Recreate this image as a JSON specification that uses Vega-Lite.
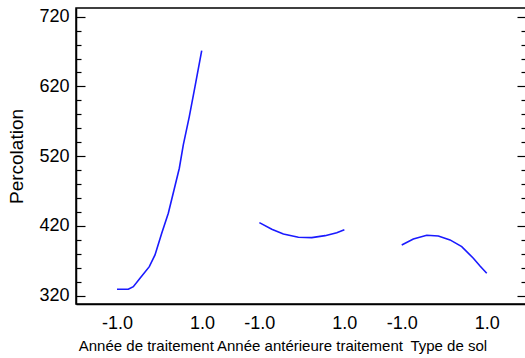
{
  "$schema": "https://vega.github.io/schema/vega-lite/v6.json",
  "width": 450,
  "height": 296,
  "autosize": {"type": "none"},
  "padding": {"left": 76, "top": 8, "right": 0, "bottom": 54},
  "background": "white",
  "config": {
    "font": "Liberation Sans",
    "view": {"stroke": "black", "strokeWidth": 1.5},
    "axis": {"labelColor": "black", "domainColor": "black", "tickColor": "black", "titleColor": "black", "grid": false, "domainWidth": 1.5, "tickWidth": 1.2}
  },
  "data": {
    "values": [
      {"facteur": "Année de traitement", "niveau": -1.0, "percolation": 329.2},
      {"facteur": "Année de traitement", "niveau": -0.734, "percolation": 329.2},
      {"facteur": "Année de traitement", "niveau": -0.616, "percolation": 332.9},
      {"facteur": "Année de traitement", "niveau": -0.459, "percolation": 344.9},
      {"facteur": "Année de traitement", "niveau": -0.24, "percolation": 361.6},
      {"facteur": "Année de traitement", "niveau": -0.106, "percolation": 378.4},
      {"facteur": "Année de traitement", "niveau": 0.052, "percolation": 409.5},
      {"facteur": "Année de traitement", "niveau": 0.207, "percolation": 438.1},
      {"facteur": "Année de traitement", "niveau": 0.341, "percolation": 471.5},
      {"facteur": "Année de traitement", "niveau": 0.466, "percolation": 502.7},
      {"facteur": "Année de traitement", "niveau": 0.56, "percolation": 536.1},
      {"facteur": "Année de traitement", "niveau": 0.701, "percolation": 576.6},
      {"facteur": "Année de traitement", "niveau": 0.835, "percolation": 619.6},
      {"facteur": "Année de traitement", "niveau": 0.993, "percolation": 671.3},
      {"facteur": "Année antérieure traitement", "niveau": -1.0, "percolation": 424.7},
      {"facteur": "Année antérieure traitement", "niveau": -0.708, "percolation": 415.2},
      {"facteur": "Année antérieure traitement", "niveau": -0.435, "percolation": 408.5},
      {"facteur": "Année antérieure traitement", "niveau": -0.082, "percolation": 403.7},
      {"facteur": "Année antérieure traitement", "niveau": 0.233, "percolation": 403.2},
      {"facteur": "Année antérieure traitement", "niveau": 0.546, "percolation": 406.0},
      {"facteur": "Année antérieure traitement", "niveau": 0.821, "percolation": 410.3},
      {"facteur": "Année antérieure traitement", "niveau": 1.0, "percolation": 414.6},
      {"facteur": "Type de sol", "niveau": -1.0, "percolation": 392.7},
      {"facteur": "Type de sol", "niveau": -0.727, "percolation": 401.3},
      {"facteur": "Type de sol", "niveau": -0.412, "percolation": 406.6},
      {"facteur": "Type de sol", "niveau": -0.139, "percolation": 405.6},
      {"facteur": "Type de sol", "niveau": 0.136, "percolation": 399.9},
      {"facteur": "Type de sol", "niveau": 0.412, "percolation": 390.3},
      {"facteur": "Type de sol", "niveau": 0.685, "percolation": 373.6},
      {"facteur": "Type de sol", "niveau": 0.842, "percolation": 362.6},
      {"facteur": "Type de sol", "niveau": 1.0, "percolation": 352.1}
    ]
  },
  "transform": [
    {"calculate": "datum.niveau + (datum.facteur == 'Année de traitement' ? 0 : (datum.facteur == 'Type de sol' ? 6.7 : 3.35))", "as": "pos"}
  ],
  "encoding": {
    "x": {
      "field": "pos", "type": "quantitative",
      "scale": {"domain": [-1.965, 8.624], "nice": false, "zero": false},
      "axis": {
        "title": null,
        "ticks": false,
        "grid": false,
        "values": [-1, 1, 2.35, 4.35, 5.7, 7.7, -0.322, 3.529, 6.795],
        "labelExpr": "abs(datum.value + 0.322) < 0.01 ? 'Année de traitement' : (abs(datum.value - 3.529) < 0.01 ? 'Année antérieure traitement' : (abs(datum.value - 6.795) < 0.01 ? 'Type de sol' : ((abs(datum.value + 1) < 0.01 || abs(datum.value - 2.35) < 0.01 || abs(datum.value - 5.7) < 0.01) ? '-1.0' : '1.0')))",
        "labelFontSize": {"condition": {"test": "abs(datum.value + 0.322) < 0.01 || abs(datum.value - 3.529) < 0.01 || abs(datum.value - 6.795) < 0.01", "value": 15}, "value": 18},
        "labelPadding": {"condition": {"test": "abs(datum.value + 0.322) < 0.01 || abs(datum.value - 3.529) < 0.01 || abs(datum.value - 6.795) < 0.01", "value": 34}, "value": 10},
        "labelLimit": 0,
        "labelOverlap": false,
        "labelFlush": false,
        "labelBound": false
      }
    },
    "y": {
      "field": "percolation", "type": "quantitative",
      "scale": {"domain": [308, 732.5], "nice": false, "zero": false}
    },
    "detail": {"field": "facteur", "type": "nominal"}
  },
  "layer": [
    {
      "mark": {"type": "line", "color": "#1a1aff", "strokeWidth": 1.6},
      "encoding": {
        "y": {
          "field": "percolation", "type": "quantitative",
          "scale": {"domain": [308, 732.5], "nice": false, "zero": false},
          "axis": {
            "orient": "left",
            "title": "Percolation",
            "titleFontSize": 19,
            "titleFontWeight": "normal",
            "titlePadding": 12,
            "values": [320, 340, 360, 380, 400, 420, 440, 460, 480, 500, 520, 540, 560, 580, 600, 620, 640, 660, 680, 700, 720],
            "labelExpr": "(datum.value - 320) % 100 == 0 ? datum.value : ''",
            "labelFontSize": 18,
            "labelPadding": 16,
            "tickSize": {"condition": {"test": "(datum.value - 320) % 100 == 0", "value": -9}, "value": -5},
            "labelOverlap": false,
            "labelBound": false
          }
        }
      }
    },
    {
      "mark": {"type": "line", "opacity": 0},
      "encoding": {
        "y": {
          "field": "percolation", "type": "quantitative",
          "scale": {"domain": [308, 732.5], "nice": false, "zero": false},
          "axis": {
            "orient": "right",
            "title": null,
            "labels": false,
            "domain": false,
            "values": [320, 340, 360, 380, 400, 420, 440, 460, 480, 500, 520, 540, 560, 580, 600, 620, 640, 660, 680, 700, 720],
            "tickSize": {"condition": {"test": "(datum.value - 320) % 100 == 0", "value": -9}, "value": -5}
          }
        }
      }
    }
  ],
  "resolve": {"axis": {"y": "independent"}}
}
